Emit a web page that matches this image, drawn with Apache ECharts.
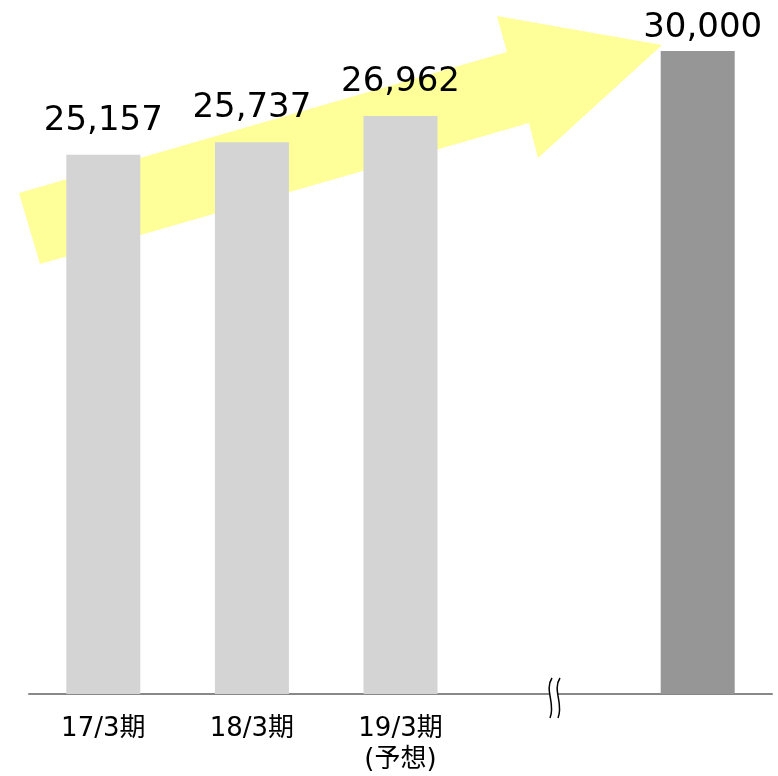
<!DOCTYPE html>
<html>
<head>
<meta charset="utf-8">
<script src="https://cdn.jsdelivr.net/npm/echarts@6/dist/echarts.min.js"></script>
<style>
  html, body { margin: 0; padding: 0; background: #ffffff; }
  #chart { width: 778px; height: 776px; }
</style>
</head>
<body>
<div id="chart"></div>
<script>
// Fiscal periods on the x axis; the empty slot holds the axis break mark
const categories = ['17/3期', '18/3期', '19/3期\n(予想)', '', ''];
// Figures per period (the last bar is the target)
const values = [25157, 25737, 26962, null, 30000];

const FONT = '"DejaVu Sans", "Noto Sans CJK JP", sans-serif';
const fmt = v => String(v).replace(/\B(?=(\d{3})+(?!\d))/g, ',');

const barData = values.map((v, i) => {
  if (v == null) return '-';
  const isTarget = i === values.length - 1;
  const item = {
    value: v,
    itemStyle: { color: isTarget ? '#969696' : '#d4d4d4' }
  };
  if (isTarget) item.label = { distance: 6, offset: [5, 0] };
  return item;
});

// wavy stroke of the axis break mark, starting at (x, y)
const wave = x => ({
  type: 'bezierCurve',
  z: 51,
  silent: true,
  shape: { x1: x, y1: 678, cpx1: x - 8, cpy1: 690, cpx2: x + 4, cpy2: 704, x2: x - 2, y2: 718 },
  style: { fill: null, stroke: '#000000', lineWidth: 1.5 }
});

const chart = echarts.init(document.getElementById('chart'), null, { renderer: 'canvas' });

chart.setOption({
  animation: false,
  backgroundColor: '#ffffff',
  grid: { left: 29, right: 6, top: 51, bottom: 81 },
  xAxis: {
    type: 'category',
    data: categories,
    axisLine: { show: true, lineStyle: { color: '#888888', width: 2 } },
    axisTick: { show: false },
    axisLabel: {
      interval: 0,
      margin: 20,
      color: '#000000',
      fontFamily: FONT,
      fontSize: 26,
      lineHeight: 31
    }
  },
  yAxis: {
    type: 'value',
    min: 0,
    max: 30000,
    show: false,
    splitLine: { show: false }
  },
  graphic: [
    {
      // rising arrow drawn behind the bars
      type: 'polygon',
      z: 0,
      silent: true,
      shape: {
        points: [
          [19, 193], [507, 52], [497, 16], [662, 45],
          [538, 158], [529, 123], [40, 264]
        ]
      },
      style: { fill: '#ffff99' }
    },
    {
      // gap in the axis line for the break mark
      type: 'rect',
      z: 50,
      silent: true,
      shape: { x: 550, y: 688, width: 7, height: 14 },
      style: { fill: '#ffffff' }
    },
    wave(552),
    wave(560)
  ],
  series: [
    {
      type: 'bar',
      z: 10,
      data: barData,
      barWidth: 74,
      label: {
        show: true,
        position: 'top',
        distance: 17,
        color: '#000000',
        fontFamily: FONT,
        fontSize: 34,
        formatter: p => fmt(p.value)
      }
    }
  ]
});
</script>
</body>
</html>
